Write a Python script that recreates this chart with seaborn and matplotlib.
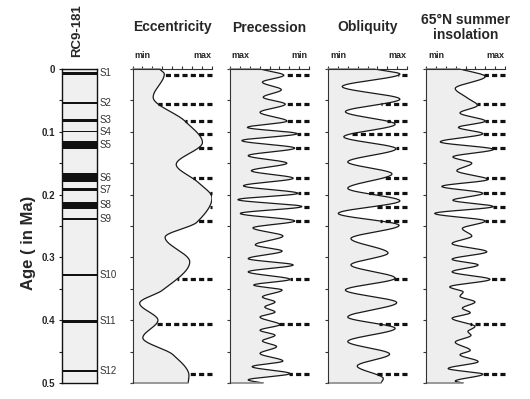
import numpy as np
import matplotlib
matplotlib.use("Agg")
import matplotlib.pyplot as plt
import seaborn as sns

# sapropel layers in core RC9-181 (top / bottom, Ma)
sap_names = ["S1", "S2", "S3", "S4", "S5", "S6", "S7", "S8", "S9", "S10", "S11", "S12"]
sap_top = [0.005, 0.053, 0.079, 0.099, 0.115, 0.166, 0.190, 0.211, 0.238, 0.326, 0.400, 0.479]
sap_bot = [0.009, 0.055, 0.084, 0.101, 0.127, 0.180, 0.195, 0.223, 0.240, 0.330, 0.404, 0.482]

# ages of the dashed tie lines
peak_ages = [0.010, 0.056, 0.083, 0.103, 0.126, 0.174, 0.198, 0.219, 0.242, 0.335, 0.406, 0.486]

# curves (position across each panel, 0 = left, 1 = right)
ecc_age = [0.000, 0.008, 0.045, 0.083, 0.117, 0.152, 0.180, 0.205, 0.244, 0.268,
           0.307, 0.352, 0.373, 0.400, 0.428, 0.455, 0.488, 0.500]
ecc_val = [0.34, 0.40, 0.26, 0.66, 0.88, 0.55, 0.82, 1.00, 0.81, 0.41,
           0.72, 0.38, 0.09, 0.32, 0.13, 0.51, 0.71, 0.70]

prec_age = [0.000, 0.010, 0.021, 0.033, 0.045, 0.056, 0.069, 0.083, 0.093, 0.103,
            0.114, 0.126, 0.138, 0.150, 0.162, 0.174, 0.186, 0.198, 0.208, 0.219,
            0.230, 0.242, 0.253, 0.266, 0.280, 0.290, 0.302, 0.312, 0.323, 0.335,
            0.344, 0.352, 0.363, 0.371, 0.379, 0.387, 0.395, 0.407, 0.416, 0.424,
            0.433, 0.442, 0.453, 0.465, 0.474, 0.485, 0.495, 0.500]
prec_val = [0.38, 0.68, 0.41, 0.65, 0.42, 0.70, 0.38, 0.72, 0.22, 0.85,
            0.15, 0.82, 0.23, 0.72, 0.27, 0.80, 0.17, 0.86, 0.10, 0.91,
            0.13, 0.82, 0.29, 0.67, 0.32, 0.66, 0.23, 0.80, 0.23, 0.76,
            0.30, 0.66, 0.41, 0.57, 0.44, 0.57, 0.38, 0.63, 0.38, 0.57,
            0.41, 0.59, 0.38, 0.67, 0.28, 0.76, 0.23, 0.42]

obl_age = [0.000, 0.008, 0.028, 0.048, 0.068, 0.088, 0.108, 0.127, 0.148, 0.167,
           0.190, 0.210, 0.230, 0.249, 0.270, 0.293, 0.312, 0.333, 0.352, 0.372,
           0.395, 0.413, 0.434, 0.454, 0.473, 0.493, 0.500]
obl_val = [0.59, 0.91, 0.18, 0.91, 0.22, 0.85, 0.20, 0.86, 0.25, 0.81,
           0.25, 0.91, 0.13, 0.90, 0.29, 0.76, 0.29, 0.85, 0.22, 0.87,
           0.25, 0.85, 0.25, 0.78, 0.37, 0.70, 0.67]

ins_age = [0.000, 0.012, 0.031, 0.045, 0.058, 0.070, 0.083, 0.093, 0.103, 0.116,
           0.128, 0.140, 0.150, 0.162, 0.176, 0.187, 0.198, 0.209, 0.219, 0.230,
           0.242, 0.254, 0.266, 0.278, 0.291, 0.303, 0.312, 0.323, 0.335, 0.347,
           0.355, 0.362, 0.371, 0.381, 0.388, 0.397, 0.410, 0.418, 0.424, 0.435,
           0.448, 0.455, 0.466, 0.477, 0.486, 0.497, 0.500]
ins_val = [0.43, 0.75, 0.37, 0.51, 0.65, 0.43, 0.75, 0.41, 0.72, 0.18,
           0.85, 0.34, 0.58, 0.39, 0.78, 0.20, 0.72, 0.34, 0.85, 0.11,
           0.75, 0.46, 0.58, 0.33, 0.77, 0.33, 0.66, 0.33, 0.81, 0.30,
           0.47, 0.43, 0.62, 0.46, 0.56, 0.33, 0.62, 0.53, 0.57, 0.37,
           0.56, 0.43, 0.66, 0.28, 0.72, 0.37, 0.47]


def pchip(x, y, xn):
    # monotone cubic through the read points, only used for drawing
    x = np.asarray(x, float)
    y = np.asarray(y, float)
    h = np.diff(x)
    d = np.diff(y) / h
    m = np.zeros_like(y)
    for k in range(1, len(x) - 1):
        if d[k - 1] * d[k] > 0:
            w1 = 2 * h[k] + h[k - 1]
            w2 = h[k] + 2 * h[k - 1]
            m[k] = (w1 + w2) / (w1 / d[k - 1] + w2 / d[k])
    m[0] = d[0]
    m[-1] = d[-1]
    i = np.clip(np.searchsorted(x, xn) - 1, 0, len(x) - 2)
    t = (xn - x[i]) / h[i]
    return ((2 * t**3 - 3 * t**2 + 1) * y[i] + (t**3 - 2 * t**2 + t) * h[i] * m[i]
            + (-2 * t**3 + 3 * t**2) * y[i + 1] + (t**3 - t**2) * h[i] * m[i + 1])


sns.set_style("ticks")
plt.rcParams['font.family'] = ['Liberation Sans', 'DejaVu Sans']

W, H = 530, 399
fig = plt.figure(figsize=(5.3, 3.99), dpi=100)


def box(x0, x1, y0=69, y1=383):
    return [x0 / W, 1 - y1 / H, (x1 - x0) / W, (y1 - y0) / H]


yt = np.round(np.arange(0, 0.501, 0.05), 2)

# core column
core = fig.add_axes(box(62, 97))
core.set_facecolor('#f0f0f0')
core.set_xlim(0, 1)
core.set_ylim(0.5, 0)
for name, a, b in zip(sap_names, sap_top, sap_bot):
    core.axhspan(a, b, color='#111111', lw=0)
    core.text(1.06, (a + b) / 2, name, transform=core.get_yaxis_transform(),
              ha='left', va='center', fontsize=7, color='#333333')
core.set_xticks([])
core.set_yticks(yt)
core.set_yticklabels(['0' if v == 0 else (f'{v:.1f}' if round(v * 10) == v * 10 else '') for v in yt],
                     fontsize=7, fontweight='bold')
core.tick_params(axis='y', direction='out', length=2.5, width=0.8, pad=2.5, color='#222222')
for s in core.spines.values():
    s.set_linewidth(1.0)
    s.set_color('#111111')

fig.text(77 / W, 1 - 31 / H, 'RC9-181', rotation=90, ha='center', va='center',
         fontsize=9.5, fontweight='bold')
fig.text(28 / W, 1 - 243 / H, 'Age ( in Ma)', rotation=90, ha='center', va='center',
         fontsize=12, fontweight='bold')

panels = [
    (132.5, 212, ecc_age, ecc_val, 'Eccentricity', 'min', 'max'),
    (230, 309, prec_age, prec_val, 'Precession', 'max', 'min'),
    (328, 407, obl_age, obl_val, 'Obliquity', 'min', 'max'),
    (426, 505, ins_age, ins_val, '65°N summer\ninsolation', 'min', 'max'),
]

tt = np.linspace(0, 0.5, 1200)
for x0, x1, ages, vals, title, lab_l, lab_r in panels:
    ax = fig.add_axes(box(x0, x1))
    v = pchip(ages, vals, tt)
    ax.fill_betweenx(tt, 0, v, color='#eeeeee', lw=0)
    sns.lineplot(x=v, y=tt, sort=False, estimator=None, orient='y',
                 color='#1a1a1a', lw=0.9, ax=ax)
    ax.plot([0, v[0]], [0, 0], color='#8a8a8a', lw=1.2, clip_on=False)
    ax.plot([0, v[-1]], [0.5, 0.5], color='#8a8a8a', lw=1.2, clip_on=False)
    for a in peak_ages:
        xs = np.interp(a, tt, v)
        ax.plot([1, xs], [a, a], color='#111111', lw=2.3, ls=(0, (1.6, 1.0)),
                dash_capstyle='butt', clip_on=False)
    ax.set_xlim(0, 1)
    ax.set_ylim(0.5, 0)
    ax.set_xlabel('')
    ax.set_ylabel('')
    ax.spines['right'].set_visible(False)
    ax.spines['bottom'].set_visible(False)
    for s in ('left', 'top'):
        ax.spines[s].set_linewidth(0.8)
        ax.spines[s].set_color('#333333')
    ax.xaxis.tick_top()
    ax.set_xticks(np.linspace(0, 1, 9))
    ax.set_xticklabels([])
    ax.set_yticks(yt)
    ax.set_yticklabels([])
    ax.tick_params(axis='x', direction='out', length=2.5, width=0.8, color='#333333')
    ax.tick_params(axis='y', direction='out', length=2.5, width=0.8, color='#333333')
    ax.text(0.13, 1.042, lab_l, transform=ax.transAxes, ha='center', va='center',
            fontsize=6.5, fontweight='bold')
    ax.text(0.88, 1.042, lab_r, transform=ax.transAxes, ha='center', va='center',
            fontsize=6.5, fontweight='bold')
    fig.text((x0 + x1) / 2 / W, 1 - 27.5 / H, title, ha='center', va='center',
             fontsize=10, fontweight='bold', linespacing=1.15)

fig.savefig('out.png', dpi=100)
